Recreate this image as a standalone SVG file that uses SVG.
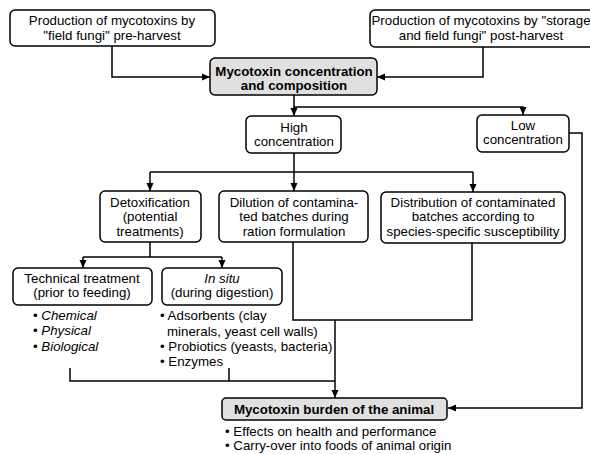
<svg xmlns="http://www.w3.org/2000/svg" width="590" height="454" viewBox="0 0 590 454">
<style>
text{font-family:"Liberation Sans",Arial,sans-serif;font-size:13.3px;fill:#000}
.c{text-anchor:middle}
.b{font-weight:bold}
.i{font-style:italic}
.box{fill:#fff;stroke:#000;stroke-width:1.5}
.gray{fill:#e0e0e0;stroke:#000;stroke-width:1.5}
.ln{fill:none;stroke:#000;stroke-width:1.5}
</style>
<defs>
<marker id="ar" viewBox="0 0 8 8" refX="8" refY="4" markerWidth="8" markerHeight="8" markerUnits="userSpaceOnUse" orient="auto">
<path d="M0,0.5 L8,4 L0,7.5 Z" fill="#000"/>
</marker>
</defs>
<rect width="590" height="454" fill="#fff"/>
<g id="connectors">
<path class="ln" d="M112,46 V77 H210" marker-end="url(#ar)"/>
<path class="ln" d="M483,47 V77 H377" marker-end="url(#ar)"/>
<path class="ln" d="M294,95 V116" marker-end="url(#ar)"/>
<path class="ln" d="M294,107 H523 V115" marker-end="url(#ar)"/>
<path class="ln" d="M294,153 V191" marker-end="url(#ar)"/>
<path class="ln" d="M150,172 H473"/>
<path class="ln" d="M150,172 V191" marker-end="url(#ar)"/>
<path class="ln" d="M473,172 V192" marker-end="url(#ar)"/>
<path class="ln" d="M150,242 V257"/>
<path class="ln" d="M83,257 H222"/>
<path class="ln" d="M83,257 V268" marker-end="url(#ar)"/>
<path class="ln" d="M222,257 V268" marker-end="url(#ar)"/>
<path class="ln" d="M293,242 V320 H472 V243"/>
<path class="ln" d="M335,320 V398" marker-end="url(#ar)"/>
<path class="ln" d="M70,368 V381 H335"/>
<path class="ln" d="M229,368 V381"/>
<path class="ln" d="M569,133 H582 V408 H448" marker-end="url(#ar)"/>
</g>
<g id="pre-harvest">
<rect class="box" x="10" y="10" width="205" height="36" rx="5"/>
<text class="c" x="112" y="25">Production of mycotoxins by</text>
<text class="c" x="112" y="40">"field fungi" pre-harvest</text>
</g>
<g id="post-harvest">
<rect class="box" x="370" y="10" width="224" height="37" rx="5"/>
<text class="c" x="481" y="25">Production of mycotoxins by "storage</text>
<text class="c" x="481" y="40">and field fungi" post-harvest</text>
</g>
<g id="concentration">
<rect class="gray" x="210" y="58" width="167" height="37" rx="5"/>
<text class="c b" x="294" y="76">Mycotoxin concentration</text>
<text class="c b" x="294" y="90">and composition</text>
</g>
<g id="high">
<rect class="box" x="246" y="116" width="95" height="37" rx="5"/>
<text class="c" x="294" y="132">High</text>
<text class="c" x="294" y="146">concentration</text>
</g>
<g id="low">
<rect class="box" x="477" y="115" width="92" height="37" rx="5"/>
<text class="c" x="523" y="130">Low</text>
<text class="c" x="523" y="144">concentration</text>
</g>
<g id="detox">
<rect class="box" x="100" y="191" width="101" height="51" rx="5"/>
<text class="c" x="150" y="207">Detoxification</text>
<text class="c" x="150" y="221">(potential</text>
<text class="c" x="150" y="236">treatments)</text>
</g>
<g id="dilution">
<rect class="box" x="219" y="191" width="149" height="51" rx="5"/>
<text class="c" x="294" y="207">Dilution of contamina-</text>
<text class="c" x="294" y="221">ted batches during</text>
<text class="c" x="294" y="236">ration formulation</text>
</g>
<g id="distribution">
<rect class="box" x="381" y="192" width="184" height="51" rx="5"/>
<text class="c" x="473" y="207">Distribution of contaminated</text>
<text class="c" x="473" y="221">batches according to</text>
<text class="c" x="473" y="236">species-specific susceptibility</text>
</g>
<g id="technical">
<rect class="box" x="13" y="268" width="139" height="37" rx="5"/>
<text class="c" x="82" y="283">Technical treatment</text>
<text class="c" x="82" y="297">(prior to feeding)</text>
<text x="33" y="320">• <tspan class="i">Chemical</tspan></text>
<text x="33" y="335">• <tspan class="i">Physical</tspan></text>
<text x="33" y="351">• <tspan class="i">Biological</tspan></text>
</g>
<g id="insitu">
<rect class="box" x="162" y="268" width="120" height="37" rx="5"/>
<text class="c i" x="222" y="283">In situ</text>
<text class="c" x="222" y="297">(during digestion)</text>
<text x="160" y="320">• Adsorbents (clay</text>
<text x="167" y="336">minerals, yeast cell walls)</text>
<text x="160" y="351">• Probiotics (yeasts, bacteria)</text>
<text x="160" y="366">• Enzymes</text>
</g>
<g id="burden">
<rect class="gray" x="222" y="398" width="225" height="22" rx="4"/>
<text class="c b" x="334" y="414">Mycotoxin burden of the animal</text>
<text x="225" y="436">• Effects on health and performance</text>
<text x="225" y="450">• Carry-over into foods of animal origin</text>
</g>
</svg>
